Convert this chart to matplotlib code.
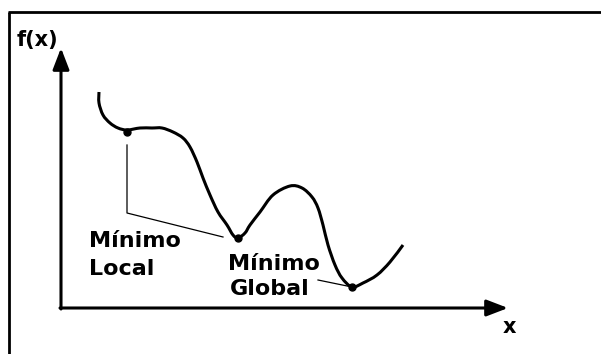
import matplotlib
matplotlib.use("Agg")
import matplotlib.pyplot as plt
import numpy as np
from matplotlib.path import Path
from matplotlib.patches import PathPatch

# curve f(x) (origin at the axes corner)
curve_x = [38, 38, 42, 49, 57, 66, 79, 91, 101, 112, 122, 129, 136, 142, 149,
           157, 166, 172, 177, 184, 189, 199, 212, 229, 241, 251, 257, 262,
           267, 274, 281, 291, 302, 316, 329, 342]
curve_y = [216, 205, 193, 185, 180, 178, 180, 180, 180, 176, 170, 161, 146,
           130, 113, 96, 83, 73, 70, 75, 83, 96, 113, 122, 120, 111, 100, 83,
           63, 43, 30, 21, 25, 33, 46, 63]

# marked points
dots_x = [66, 177, 291]
dots_y = [176, 70, 21]

# leader lines
local_line_x = [66, 66, 162]
local_line_y = [163, 95, 71]
global_line_x = [257, 291]
global_line_y = [28, 21]

X_END = 447
Y_END = 260


def smooth_path(xs, ys):
    # cubic Bezier segments through the read points (Catmull-Rom tangents)
    p = np.column_stack([xs, ys]).astype(float)
    verts = [p[0]]
    codes = [Path.MOVETO]
    for i in range(len(p) - 1):
        p0 = p[i - 1] if i > 0 else p[i]
        p3 = p[i + 2] if i + 2 < len(p) else p[i + 1]
        c1 = p[i] + (p[i + 1] - p0) / 6
        c2 = p[i + 1] - (p3 - p[i]) / 6
        verts += [c1, c2, p[i + 1]]
        codes += [Path.CURVE4] * 3
    return Path(verts, codes)


fig = plt.figure(figsize=(6.01, 3.54), dpi=100)
ax = fig.add_axes([0, 0, 1, 1])
ax.set_xlim(-61, 540)
ax.set_ylim(-46, 308)
ax.axis("off")

# frame (only top and left edges visible)
ax.plot([-52, -52], [-60, 296], color="black", lw=2.0, solid_capstyle="butt")
ax.plot([-53, 560], [296, 296], color="black", lw=2.0, solid_capstyle="butt")

# axes arrows
arrow = dict(arrowstyle="-|>,head_length=0.65,head_width=0.25", lw=2.2,
             color="black", shrinkA=0, shrinkB=0, mutation_scale=20)
ax.annotate("", xy=(X_END, 0), xytext=(-1, 0), arrowprops=arrow)
ax.annotate("", xy=(0, Y_END), xytext=(0, -1), arrowprops=arrow)

ax.add_patch(PathPatch(smooth_path(curve_x, curve_y), facecolor="none",
                       edgecolor="black", lw=2.2))
ax.plot(local_line_x, local_line_y, color="black", lw=0.9)
ax.plot(global_line_x, global_line_y, color="black", lw=0.9)
ax.plot(dots_x, dots_y, "o", color="black", ms=5)

font = dict(family="DejaVu Sans", fontweight="bold", color="black")
ax.text(-44, 262, "f(x)", fontsize=15, ha="left", va="baseline", **font)
ax.text(448, -25, "x", fontsize=15, ha="center", va="baseline", **font)
ax.text(28, 61, "Mínimo", fontsize=16, ha="left", va="baseline", **font)
ax.text(28, 33, "Local", fontsize=16, ha="left", va="baseline", **font)
ax.text(167, 38, "Mínimo", fontsize=16, ha="left", va="baseline", **font)
ax.text(169, 13, "Global", fontsize=16, ha="left", va="baseline", **font)

fig.savefig("out.png", dpi=100)
